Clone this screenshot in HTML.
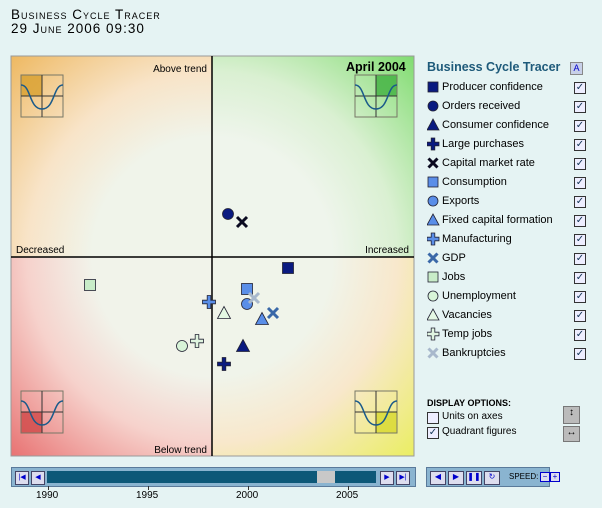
<!DOCTYPE html>
<html><head><meta charset="utf-8">
<style>
body{margin:0;width:602px;height:508px;background:#e5f3f3;font-family:"Liberation Sans",sans-serif;position:relative;overflow:hidden}
.t{position:absolute;font-size:11px;color:#000}
#title{position:absolute;left:11px;top:8px;font-size:13.5px;font-variant:small-caps;letter-spacing:1px;line-height:14px}
.leg{position:absolute;left:427px;font-size:11px;height:16px;line-height:16px}
.leg svg{position:absolute;left:0;top:1px}
.leg span{position:absolute;left:15px;white-space:nowrap}
.cb{position:absolute;left:574px;width:10px;height:10px;border:1px solid #333;background:#eef;font-size:10px;line-height:10px;text-align:center;color:#135}
</style></head><body>
<div id="title">Business Cycle Tracer<br>29 June 2006 09:30</div>
<svg id="chart" width="602" height="508" style="position:absolute;left:0;top:0">
<defs>
<radialGradient id="gTL" cx="212" cy="257" r="285" gradientUnits="userSpaceOnUse"><stop offset="0.42" stop-color="#f0f4ea"/><stop offset="0.65" stop-color="#f8e4c8"/><stop offset="1" stop-color="#eeb860"/></radialGradient>
<radialGradient id="gTR" cx="212" cy="257" r="285" gradientUnits="userSpaceOnUse"><stop offset="0.42" stop-color="#eff5ec"/><stop offset="0.65" stop-color="#daf0d2"/><stop offset="1" stop-color="#80dc70"/></radialGradient>
<radialGradient id="gBL" cx="212" cy="257" r="285" gradientUnits="userSpaceOnUse"><stop offset="0.42" stop-color="#f1f3ea"/><stop offset="0.65" stop-color="#f6d2cc"/><stop offset="1" stop-color="#e87070"/></radialGradient>
<radialGradient id="gBR" cx="212" cy="257" r="285" gradientUnits="userSpaceOnUse"><stop offset="0.42" stop-color="#f0f4ea"/><stop offset="0.65" stop-color="#f8e8cc"/><stop offset="1" stop-color="#eaee60"/></radialGradient>
</defs>
<rect x="11" y="56" width="201" height="201" fill="url(#gTL)"/>
<rect x="212" y="56" width="202" height="201" fill="url(#gTR)"/>
<rect x="11" y="257" width="201" height="199" fill="url(#gBL)"/>
<rect x="212" y="257" width="202" height="199" fill="url(#gBR)"/>
<rect x="11" y="56" width="403" height="400" fill="none" stroke="#999"/>
<line x1="212" y1="56" x2="212" y2="456" stroke="#000" stroke-width="1.5"/>
<line x1="11" y1="257" x2="414" y2="257" stroke="#000" stroke-width="1.5"/>
<g id="icons"></g>
<g id="marks"></g>
<text x="207" y="72" font-size="10" text-anchor="end">Above trend</text>
<text x="346" y="71" font-size="12.5" font-weight="bold">April 2004</text>
<text x="16" y="253" font-size="10">Decreased</text>
<text x="409" y="253" font-size="10" text-anchor="end">Increased</text>
<text x="207" y="453" font-size="10" text-anchor="end">Below trend</text>
</svg>
<div style="position:absolute;left:427px;top:60px;font-size:12.5px;font-weight:bold;color:#1e5a7a">Business Cycle Tracer</div>
<div style="position:absolute;left:570px;top:62px;width:11px;height:11px;background:#c8d0e8;border:1px solid #888;font-size:9px;text-align:center;color:#00c;line-height:11px">A</div>
<div id="legend"></div>
<div style="position:absolute;left:427px;top:398px;font-size:9px;font-weight:bold">DISPLAY OPTIONS:</div>
<div class="cb" style="left:427px;top:412px;color:transparent"></div>
<div class="t" style="left:442px;top:411px;font-size:10px">Units on axes</div>
<div class="cb" style="left:427px;top:427px">✓</div>
<div class="t" style="left:442px;top:426px;font-size:10px">Quadrant figures</div>
<div style="position:absolute;left:563px;top:406px;width:15px;height:16px;background:#bbb;border:1px solid #777;font-size:10px;text-align:center">↕</div>
<div style="position:absolute;left:563px;top:426px;width:15px;height:14px;background:#bbb;border:1px solid #777;font-size:10px;text-align:center">↔</div>
<div style="position:absolute;left:11px;top:467px;width:403px;height:18px;background:#8ab4d0;border:1px solid #5a7a9a">
 <div style="position:absolute;left:35px;top:3px;width:329px;height:12px;background:#0d5878"></div>
 <div style="position:absolute;left:3px;top:3px;width:12px;height:12px;background:#dde;border:1px solid #446;font-size:7px;color:#00c;text-align:center;line-height:12px">|◀</div>
 <div style="position:absolute;left:19px;top:3px;width:12px;height:12px;background:#dde;border:1px solid #446;font-size:7px;color:#00c;text-align:center;line-height:12px">◀</div>
 <div style="position:absolute;left:305px;top:3px;width:18px;height:12px;background:#c8c8c8"></div>
 <div style="position:absolute;left:368px;top:3px;width:12px;height:12px;background:#dde;border:1px solid #446;font-size:7px;color:#00c;text-align:center;line-height:12px">▶</div>
 <div style="position:absolute;left:384px;top:3px;width:12px;height:12px;background:#dde;border:1px solid #446;font-size:7px;color:#00c;text-align:center;line-height:12px">▶|</div>
</div>
<div id="years"></div>
<div style="position:absolute;left:426px;top:467px;width:122px;height:18px;background:#8ab4d0;border:1px solid #5a7a9a">
 <div style="position:absolute;left:3px;top:3px;width:14px;height:12px;background:#dde;border:1px solid #446;font-size:8px;color:#00c;text-align:center">◀</div>
 <div style="position:absolute;left:21px;top:3px;width:14px;height:12px;background:#dde;border:1px solid #446;font-size:8px;color:#00c;text-align:center">▶</div>
 <div style="position:absolute;left:39px;top:3px;width:14px;height:12px;background:#dde;border:1px solid #446;font-size:8px;color:#00c;text-align:center">❚❚</div>
 <div style="position:absolute;left:57px;top:3px;width:14px;height:12px;background:#dde;border:1px solid #446;font-size:8px;color:#00c;text-align:center">↻</div>
 <div style="position:absolute;left:82px;top:4px;font-size:8px">SPEED:</div>
 <div style="position:absolute;left:113px;top:4px;width:8px;height:8px;background:#dde;border:1px solid #00c;font-size:8px;line-height:8px;text-align:center;color:#00c">−</div>
 <div style="position:absolute;left:123px;top:4px;width:8px;height:8px;background:#dde;border:1px solid #00c;font-size:8px;line-height:8px;text-align:center;color:#00c">+</div>
</div>
<script>
const seriesNames=["Producer confidence","Orders received","Consumer confidence","Large purchases","Capital market rate","Consumption","Exports","Fixed capital formation","Manufacturing","GDP","Jobs","Unemployment","Vacancies","Temp jobs","Bankruptcies"];
const shapes=["square","circle","triangle","plus","x","square","circle","triangle","plus","x","square","circle","triangle","plus","x"];
const colors=["#0a1a80","#0a1a80","#0a1a80","#0a1a80","#0a0a20","#5a8ee8","#5a8ee8","#5a8ee8","#5a8ee8","#3a68a8","#c8ecc8","#d8f4d8","#e4f8e4","#e0f4e0","#a8b8cc"];
const xValues=[1.52,0.32,0.62,0.24,0.6,0.7,0.7,1.0,-0.06,1.22,-2.44,-0.6,0.24,-0.3,0.84];
const yValues=[-0.22,0.86,-1.78,-2.14,0.7,-0.64,-0.94,-1.24,-0.9,-1.12,-0.56,-1.78,-1.12,-1.68,-0.82];
const years=[1990,1995,2000,2005];
const NS="http://www.w3.org/2000/svg";
const sx=v=>212+v*50, sy=v=>257-v*50;
const yx=y=>48+(y-1990)*20;
function shape(s,cx,cy,r,fill){
  let el;
  if(s=="square"){el=document.createElementNS(NS,"rect");el.setAttribute("x",cx-r);el.setAttribute("y",cy-r);el.setAttribute("width",2*r);el.setAttribute("height",2*r);}
  else if(s=="circle"){el=document.createElementNS(NS,"circle");el.setAttribute("cx",cx);el.setAttribute("cy",cy);el.setAttribute("r",r);}
  else if(s=="triangle"){el=document.createElementNS(NS,"polygon");el.setAttribute("points",`${cx},${cy-r-1} ${cx+r+1},${cy+r} ${cx-r-1},${cy+r}`);}
  else if(s=="plus"){el=document.createElementNS(NS,"path");const a=r+1,b=1.8;el.setAttribute("d",`M${cx-b},${cy-a}h${2*b}v${a-b}h${a-b}v${2*b}h${-(a-b)}v${a-b}h${-2*b}v${-(a-b)}h${-(a-b)}v${-2*b}h${a-b}z`);}
  else {el=document.createElementNS(NS,"path");const a=r-0.5;el.setAttribute("d",`M${cx-a},${cy-a}L${cx+a},${cy+a}M${cx+a},${cy-a}L${cx-a},${cy+a}`);el.setAttribute("stroke",fill);el.setAttribute("stroke-width","3");return el;}
  el.setAttribute("fill",fill);el.setAttribute("stroke","#223");el.setAttribute("stroke-width","0.8");
  return el;
}
const marks=document.getElementById("marks");
seriesNames.forEach((n,i)=>{
  const el=shape(shapes[i],sx(xValues[i]),sy(yValues[i]),5.5,colors[i]);
  
  
  marks.appendChild(el);
});
const leg=document.getElementById("legend");
seriesNames.forEach((n,i)=>{
  const d=document.createElement("div");d.className="leg";d.style.top=(79+i*19)+"px";
  
  
  const s=document.createElementNS(NS,"svg");s.setAttribute("width","13");s.setAttribute("height","14");
  s.appendChild(shape(shapes[i],6,7,5,colors[i]));
  d.appendChild(s);const sp=document.createElement("span");sp.textContent=n;d.appendChild(sp);
  leg.appendChild(d);
  const c=document.createElement("div");c.className="cb";c.style.top=(82+i*19)+"px";c.textContent="✓";
  
  
  document.body.appendChild(c);
});
const ic=document.getElementById("icons");
[[21,75,0,0,"#d8a030"],[355,75,1,0,"#40b040"],[21,391,0,1,"#d04848"],[355,391,1,1,"#d8d830"]].forEach(q=>{
  const g=document.createElementNS(NS,"g");
  g.innerHTML=`<rect x="${q[0]+q[2]*21}" y="${q[1]+q[3]*21}" width="21" height="21" fill="${q[4]}" opacity="0.8"/><rect x="${q[0]}" y="${q[1]}" width="42" height="42" fill="none" stroke="#776"/><line x1="${q[0]+21}" y1="${q[1]}" x2="${q[0]+21}" y2="${q[1]+42}" stroke="#333"/><line x1="${q[0]}" y1="${q[1]+21}" x2="${q[0]+42}" y2="${q[1]+21}" stroke="#333"/><path d="M${q[0]},${q[1]+10} C${q[0]+10},${q[1]+10} ${q[0]+8},${q[1]+34} ${q[0]+21},${q[1]+34} C${q[0]+34},${q[1]+34} ${q[0]+32},${q[1]+10} ${q[0]+42},${q[1]+10}" fill="none" stroke="#1a5a8a" stroke-width="1.5"/>`;
  
  
  ic.appendChild(g);
});
const yd=document.getElementById("years");
years.forEach(y=>{
  const t=document.createElement("div");t.className="t";t.style.left=(yx(y)-12)+"px";t.style.top="490px";t.style.fontSize="10px";t.textContent=y;
  
  
  yd.appendChild(t);
  const k=document.createElement("div");k.style.cssText=`position:absolute;left:${yx(y)}px;top:486px;width:1px;height:4px;background:#333`;
  yd.appendChild(k);
});
</script>
</body></html>
